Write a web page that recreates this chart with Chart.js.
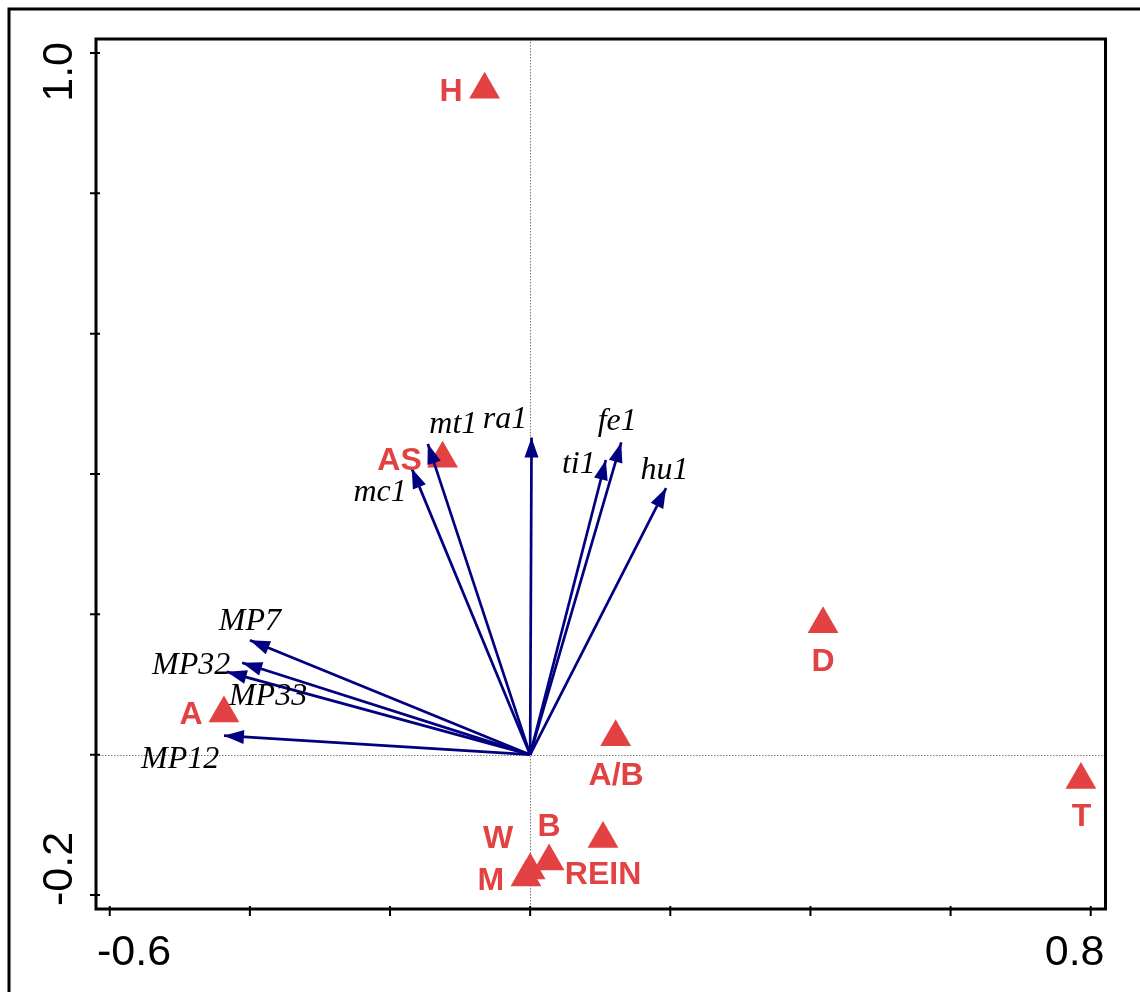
<!DOCTYPE html>
<html>
<head>
<meta charset="utf-8">
<script src="https://cdn.jsdelivr.net/npm/chart.js@4.4.1/dist/chart.umd.min.js"></script>
<style>
  html, body { margin: 0; padding: 0; background: #fff; }
  #wrap { width: 1140px; height: 992px; }
</style>
</head>
<body>
<div id="wrap"><canvas id="biplot" width="1140" height="992"></canvas></div>
<script>
// Sample sites (red triangles)
const siteNames = ['H', 'AS', 'D', 'A', 'A/B', 'T', 'W', 'B', 'M', 'REIN'];
const siteX = [-0.065, -0.125, 0.418, -0.437, 0.122, 0.786, 0.000, 0.027, -0.006, 0.104];
const siteY = [0.948, 0.422, 0.186, 0.059, 0.025, -0.036, -0.165, -0.152, -0.175, -0.120];

// Explanatory variables (arrows from the origin)
const varNames = ['mt1', 'ra1', 'mc1', 'ti1', 'fe1', 'hu1', 'MP7', 'MP32', 'MP33', 'MP12'];
const varX = [-0.146, 0.002, -0.169, 0.108, 0.130, 0.194, -0.400, -0.411, -0.433, -0.437];
const varY = [0.443, 0.452, 0.408, 0.420, 0.445, 0.380, 0.163, 0.131, 0.118, 0.027];

// Axis ticks and the labels printed at the axis ends
const xTicks = [-0.6, -0.4, -0.2, 0, 0.2, 0.4, 0.6, 0.8];
const yTicks = [-0.2, 0, 0.2, 0.4, 0.6, 0.8, 1.0];
const xEndLabels = ['-0.6', '0.8'];
const yEndLabels = ['-0.2', '1.0'];

// Label placement relative to the marks, in pixels: [dx, baseline dy]
const siteLabelShift = [[-33.5, 11], [-43, 11.5], [0, 47], [-33, 10.5], [0.5, 48],
                        [0.5, 46.5], [-32, -22.5], [0, -25], [-35, 13], [0, 45.5]];
const varLabelShift = [[25.5, -11], [-26.5, -9.3], [-31.7, 32.7], [-27, 13], [-4, -12],
                       [-1.5, -9.3], [0, -10], [-51, 11.3], [41.3, 33.3], [-43.8, 32]];

const RED = '#e34242';
const NAVY = '#000080';
const SANS = '"Liberation Sans", Arial, Helvetica, sans-serif';
const SERIF = '"Liberation Serif", "Times New Roman", serif';

const siteData = siteX.map((x, i) => ({ x: x, y: siteY[i] }));

const arrowSets = varNames.map((name, i) => ({
  label: name,
  data: [{ x: 0, y: 0 }, { x: varX[i], y: varY[i] }],
  showLine: true,
  borderColor: NAVY,
  borderWidth: 2.7,
  pointRadius: 0,
  order: 1,
  isArrow: true
}));

const biplotDecor = {
  id: 'biplotDecor',
  beforeDatasetsDraw(chart) {
    const { ctx, chartArea: a, scales: { x, y } } = chart;
    const x0 = Math.round(x.getPixelForValue(0)) + 0.5;
    const y0 = Math.round(y.getPixelForValue(0)) + 0.5;
    ctx.save();
    ctx.strokeStyle = '#7a7a7a';
    ctx.lineWidth = 1;
    ctx.setLineDash([1.5, 1.5]);
    ctx.beginPath();
    ctx.moveTo(x0, a.top); ctx.lineTo(x0, a.bottom);
    ctx.moveTo(a.left, y0); ctx.lineTo(a.right, y0);
    ctx.stroke();
    ctx.restore();
  },
  afterDatasetsDraw(chart) {
    const { ctx } = chart;
    ctx.save();
    // arrowheads and variable names
    chart.data.datasets.forEach((ds, di) => {
      if (!ds.isArrow) return;
      const meta = chart.getDatasetMeta(di);
      const p0 = meta.data[0], p1 = meta.data[1];
      const ang = Math.atan2(p1.y - p0.y, p1.x - p0.x);
      const L = 20, W = 7;
      const bx = p1.x - L * Math.cos(ang), by = p1.y - L * Math.sin(ang);
      ctx.fillStyle = NAVY;
      ctx.beginPath();
      ctx.moveTo(p1.x, p1.y);
      ctx.lineTo(bx + W * Math.sin(ang), by - W * Math.cos(ang));
      ctx.lineTo(bx - W * Math.sin(ang), by + W * Math.cos(ang));
      ctx.closePath();
      ctx.fill();

      const idx = varNames.indexOf(ds.label);
      const s = varLabelShift[idx];
      ctx.fillStyle = '#000';
      ctx.font = 'italic 32px ' + SERIF;
      ctx.textAlign = 'center';
      ctx.textBaseline = 'alphabetic';
      ctx.fillText(ds.label, p1.x + s[0], p1.y + s[1]);
    });
    // site names
    const siteMeta = chart.getDatasetMeta(0);
    ctx.fillStyle = RED;
    ctx.font = 'bold 32px ' + SANS;
    ctx.textAlign = 'center';
    ctx.textBaseline = 'alphabetic';
    siteMeta.data.forEach((pt, i) => {
      const s = siteLabelShift[i];
      ctx.fillText(siteNames[i], pt.x + s[0], pt.y + s[1]);
    });
    ctx.restore();
  },
  afterDraw(chart) {
    const { ctx, chartArea: a, scales: { x, y }, width, height } = chart;
    ctx.save();
    ctx.strokeStyle = '#000';
    ctx.lineCap = 'butt';

    // outer frame
    ctx.lineWidth = 3;
    ctx.beginPath();
    ctx.moveTo(9, height); ctx.lineTo(9, 9); ctx.lineTo(width, 9);
    ctx.stroke();

    // plot box
    ctx.strokeRect(a.left, a.top, a.right - a.left, a.bottom - a.top);

    // tick marks
    ctx.lineWidth = 2;
    ctx.beginPath();
    xTicks.forEach(v => {
      const px = x.getPixelForValue(v);
      ctx.moveTo(px, a.bottom - 3); ctx.lineTo(px, a.bottom + 7);
    });
    yTicks.forEach(v => {
      const py = y.getPixelForValue(v);
      ctx.moveTo(a.left - 6, py); ctx.lineTo(a.left + 4, py);
    });
    ctx.stroke();

    // end labels of the axes
    ctx.fillStyle = '#000';
    ctx.font = '43px ' + SANS;
    ctx.textBaseline = 'alphabetic';
    ctx.textAlign = 'left';
    ctx.fillText(xEndLabels[0], a.left + 1, a.bottom + 56);
    ctx.textAlign = 'right';
    ctx.fillText(xEndLabels[1], a.right - 1, a.bottom + 56);

    ctx.save();
    ctx.translate(a.left - 24, a.bottom - 3);
    ctx.rotate(-Math.PI / 2);
    ctx.textAlign = 'left';
    ctx.fillText(yEndLabels[0], 0, 0);
    ctx.restore();

    ctx.save();
    ctx.translate(a.left - 24, a.top + 3);
    ctx.rotate(-Math.PI / 2);
    ctx.textAlign = 'right';
    ctx.fillText(yEndLabels[1], 0, 0);
    ctx.restore();

    ctx.restore();
  }
};

new Chart(document.getElementById('biplot'), {
  type: 'scatter',
  data: {
    datasets: [
      {
        label: 'sites',
        data: siteData,
        pointStyle: 'triangle',
        pointRadius: 17.8,
        pointBackgroundColor: RED,
        pointBorderWidth: 0,
        borderWidth: 0,
        order: 2
      },
      ...arrowSets
    ]
  },
  options: {
    responsive: false,
    animation: false,
    events: [],
    layout: { padding: { left: 96, top: 39, right: 34.5, bottom: 83 } },
    plugins: { legend: { display: false }, tooltip: { enabled: false } },
    scales: {
      x: { type: 'linear', display: false, min: -0.6196, max: 0.8211 },
      y: { type: 'linear', display: false, min: -0.220, max: 1.020 }
    }
  },
  plugins: [biplotDecor]
});
</script>
</body>
</html>
